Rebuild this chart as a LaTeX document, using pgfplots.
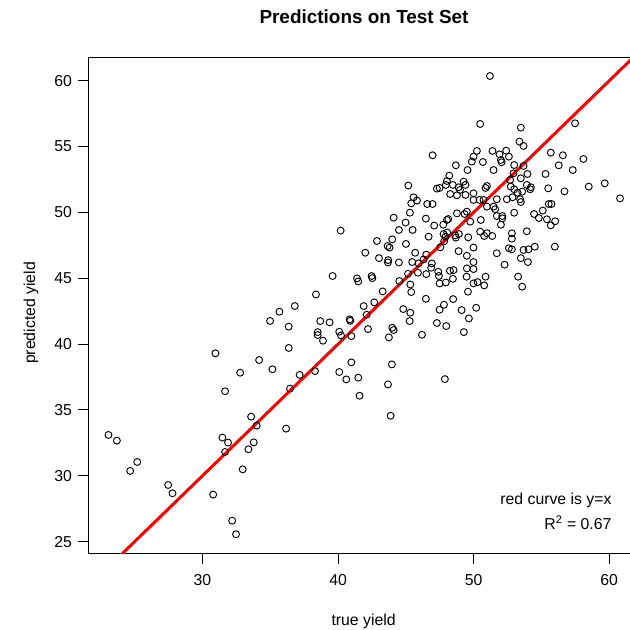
\documentclass[border=0pt]{standalone}
\usepackage{fontspec}
\setmainfont{Liberation Sans}
\usepackage{pgfplots}
\pgfplotsset{compat=1.18}
\begin{document}
\begin{tikzpicture}[x=1pt,y=1pt]
\useasboundingbox (0,0) rectangle (472.5,472.5);
\begin{axis}[
  at={(66pt,57pt)}, anchor=south west,
  scale only axis, width=414.4pt, height=372.5pt,
  xmin=21.56, xmax=62.31, ymin=24.06, ymax=61.78,
  xtick={30,40,50,60}, ytick={25,30,...,60},
  tick align=outside, major tick length=7.5pt, tick pos=left,
  axis line style={line width=0.75pt},
  every tick/.style={black, line width=0.75pt},
  tick label style={font=\fontsize{11.85}{14}\selectfont},
  /pgf/number format/assume math mode=true,
  xticklabel style={anchor=base, yshift=-16.5pt},
  yticklabel style={anchor=east, xshift=-1pt},
  clip=true,
]
\addplot[only marks, mark=o, mark size=2.6pt, mark options={line width=0.7pt, black}] coordinates {
(36.81,42.89) (35.68,42.46) (34.99,41.76) (36.36,41.33) (36.36,39.71) (30.96,39.30) (34.18,38.79) (32.78,37.83) (35.16,38.09) (37.17,37.66)
(31.67,36.42) (36.46,36.62) (33.59,34.49) (34.00,33.81) (36.17,33.58) (23.07,33.10) (23.69,32.67) (31.47,32.90) (31.89,32.52) (31.67,31.81)
(33.78,32.54) (33.39,32.01) (25.19,31.05) (24.67,30.37) (32.97,30.49) (27.47,29.30) (27.79,28.67) (30.79,28.57) (32.19,26.59) (32.48,25.56)
(41.59,36.08) (43.88,34.56)
(42.01,46.94) (43.02,46.53) (43.70,46.38) (43.68,46.20) (44.49,46.20) (45.69,46.94) (46.51,46.79) (45.47,46.23) (45.94,46.13) (46.31,46.43)
(46.92,46.13) (46.87,45.80) (47.39,45.49) (48.25,45.57) (48.52,45.62) (47.44,45.17) (47.95,44.68) (48.47,44.96) (47.49,44.61) (48.89,47.06)
(49.50,46.71) (49.50,45.75) (49.48,45.12) (49.58,43.98) (46.51,45.32) (45.89,45.42) (45.16,45.34) (44.52,44.79) (45.33,44.53) (45.40,43.95)
(43.29,44.00) (42.48,45.17) (42.53,45.01) (41.40,44.99) (41.49,44.76) (39.60,45.17) (38.37,43.77) (42.67,43.17) (41.89,42.89) (42.11,42.23)
(44.81,42.66) (45.33,42.38) (46.48,43.44) (47.81,42.99) (47.49,42.61) (48.49,43.42) (49.11,42.58) (49.65,41.95) (45.28,41.75) (47.29,41.60)
(47.98,41.37) (49.28,40.91) (38.69,41.75) (39.38,41.65) (40.86,41.88) (40.90,41.77) (38.50,40.91) (38.50,40.69) (38.89,40.26) (40.09,40.94)
(40.22,40.66) (40.98,40.61) (42.21,41.14) (44.00,41.24) (44.10,41.07) (43.75,40.51) (46.19,40.71) (40.98,38.61) (43.97,38.46) (38.30,37.95)
(40.09,37.88) (40.61,37.32) (41.49,37.45) (43.68,36.94) (47.88,37.34)
(49.99,46.23) (49.99,45.70) (49.99,44.61) (50.29,44.71) (50.88,45.12) (50.78,44.46) (50.19,42.76) (52.28,46.03) (53.48,46.53) (54.00,46.23)
(53.28,45.12) (53.58,44.36)
(50.48,56.72) (53.48,56.44) (57.48,56.77) (53.38,55.38) (53.68,55.05) (55.69,54.54) (56.58,54.34) (58.10,54.06) (56.28,53.58) (57.31,53.22)
(55.30,52.92) (59.67,52.21) (58.49,51.96) (60.80,51.07) (56.70,51.60) (55.50,51.83) (50.24,54.67) (51.39,54.67) (51.91,54.41) (52.40,54.69)
(52.60,54.24) (52.01,53.98) (52.06,53.81) (49.99,54.24) (49.87,53.86) (50.68,53.83) (49.55,53.22) (51.47,53.22) (52.99,53.60) (53.68,53.53)
(53.97,52.92) (52.94,52.97) (53.48,52.59) (52.69,52.47) (49.26,52.34) (49.40,52.09) (50.98,52.01) (50.88,51.86) (52.74,51.96) (52.99,51.76)
(53.92,52.09) (54.22,51.91) (54.17,51.76) (53.58,51.58) (53.24,51.50) (53.43,51.00) (53.48,50.79) (52.45,51.00) (52.87,51.15) (51.71,51.00)
(49.99,51.45) (49.40,51.33) (49.99,50.95) (50.43,50.95) (50.73,50.95) (51.47,50.44) (51.59,50.24) (50.98,50.44) (49.50,50.06) (51.71,49.73)
(52.11,49.73) (52.11,49.55) (50.53,49.43) (49.75,49.30) (52.01,49.07) (52.99,49.98) (54.46,49.88) (54.81,49.58) (55.10,50.14) (55.54,50.64)
(55.74,50.64) (55.40,49.48) (55.69,49.02) (56.01,49.33) (53.92,48.57) (52.82,48.42) (52.82,48.01) (50.48,48.54) (50.98,48.42) (51.37,48.21)
(50.78,48.21) (49.60,48.11) (49.99,47.33) (52.60,47.28) (52.82,47.20) (53.68,47.15) (54.05,47.20) (54.51,47.40) (55.99,47.40) (51.71,46.90)
(46.97,54.34) (48.69,53.58) (48.20,52.79) (48.03,52.39) (47.95,52.09) (48.47,52.09) (48.89,51.91) (47.29,51.81) (47.49,51.86) (48.99,51.71)
(48.27,51.40) (48.77,51.30) (45.18,52.04) (45.57,51.15) (45.82,50.90) (45.40,50.69) (46.58,50.64) (46.97,50.64) (44.10,49.60) (45.30,49.98)
(44.98,49.23) (46.48,49.53) (44.49,48.67) (45.50,48.67) (47.09,49.00) (40.19,48.62) (48.03,49.43) (48.13,49.50) (47.76,49.07) (48.77,49.93)
(49.33,49.88) (46.68,48.16) (47.78,48.36) (47.93,48.16) (48.05,48.47) (48.64,48.26) (48.91,48.36) (48.69,48.09) (47.83,47.81) (42.87,47.83)
(44.00,47.96) (43.66,47.45) (43.80,47.33) (45.01,47.61) (47.54,47.35)
(51.20,60.36)
};
\addplot[red, line width=2.25pt] coordinates {(20,20) (65,65)};
\end{axis}
\node[anchor=base, font=\bfseries\fontsize{14.2}{17}\selectfont] at (273,454.5) {Predictions on Test Set};
\node[anchor=base, font=\fontsize{11.85}{14}\selectfont] at (272.7,3) {true yield};
\node[rotate=90, font=\fontsize{11.85}{14}\selectfont] at (23.25,237.75) {predicted yield};
\node[anchor=base east, inner sep=0pt, font=\fontsize{11.85}{14}\selectfont] at (458.8,93.75) {red curve is y=x};
\node[anchor=base east, inner sep=0pt, font=\fontsize{11.85}{14}\selectfont] at (458.8,75.5) {R\textsuperscript{2} = 0.67};
\end{tikzpicture}
\end{document}
